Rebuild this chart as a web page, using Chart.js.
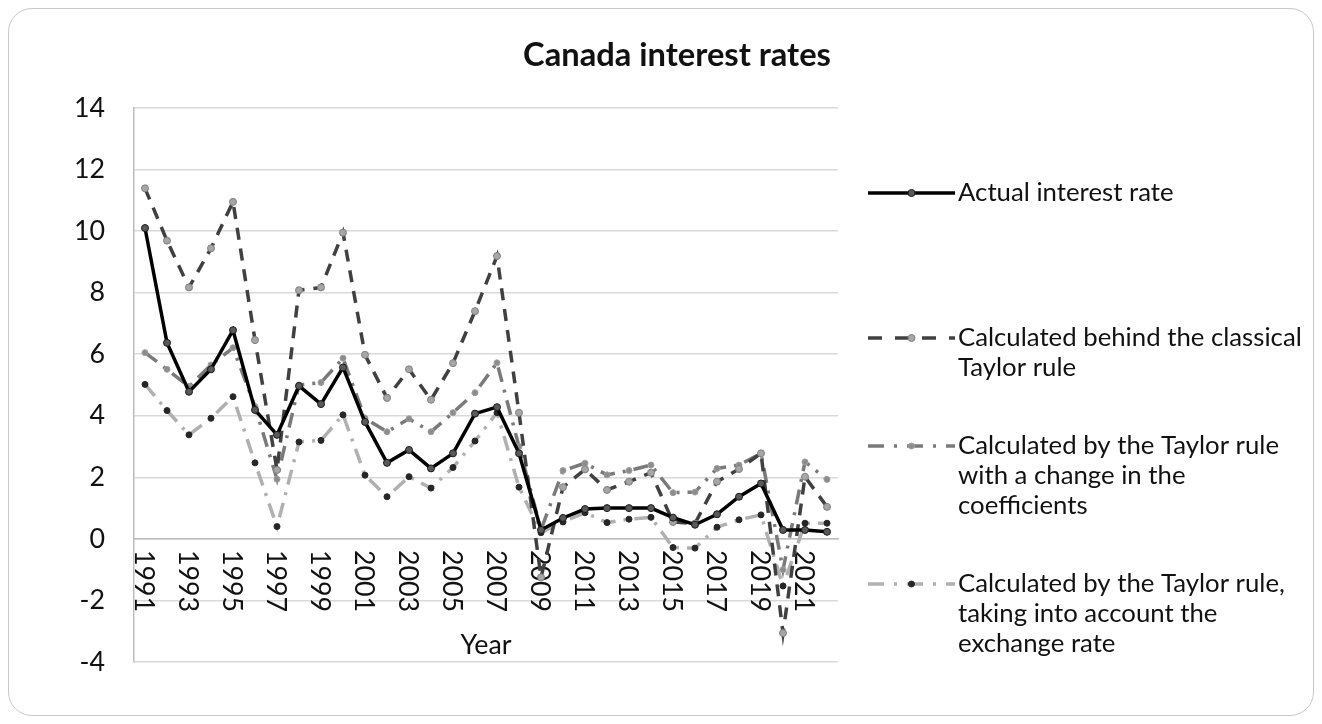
<!DOCTYPE html>
<html>
<head>
<meta charset="utf-8">
<script src="https://cdn.jsdelivr.net/npm/chart.js@4.4.1/dist/chart.umd.min.js"></script>
<style>
  html, body { margin: 0; padding: 0; background: #fff; }
  #card {
    position: absolute; left: 8px; top: 8px; width: 1306px; height: 708px;
    border: 1.5px solid #c9c9c9; border-radius: 24px; box-sizing: border-box;
  }
  #wrap { position: absolute; left: 0; top: 0; width: 1322px; height: 724px; }
</style>
</head>
<body>
<div id="card"></div>
<div id="wrap"><canvas id="chart" width="1322" height="724"></canvas></div>
<script>
const years = ['1991','1992','1993','1994','1995','1996','1997','1998','1999','2000',
  '2001','2002','2003','2004','2005','2006','2007','2008','2009','2010','2011',
  '2012','2013','2014','2015','2016','2017','2018','2019','2020','2021','2022'];

const actualRate = [10.1, 6.37, 4.78, 5.51, 6.78, 4.19, 3.38, 4.97, 4.38, 5.57,
  3.8, 2.47, 2.89, 2.29, 2.78, 4.07, 4.28, 2.78, 0.29, 0.68, 0.97,
  1.0, 1.0, 1.0, 0.69, 0.46, 0.8, 1.37, 1.8, 0.29, 0.29, 0.23];

const classicalTaylor = [11.39, 9.69, 8.17, 9.44, 10.95, 6.46, 2.24, 8.08, 8.17, 9.95,
  5.98, 4.58, 5.51, 4.52, 5.71, 7.4, 9.19, 4.1, -1.25, 1.68, 2.26,
  1.59, 1.86, 2.15, 0.55, 0.5, 1.86, 2.27, 2.78, -3.06, 2.02, 1.04];

const changedCoefficients = [6.05, 5.51, 4.95, 5.65, 6.21, 4.3, 1.94, 5.0, 5.08, 5.87,
  3.92, 3.48, 3.9, 3.48, 4.1, 4.75, 5.72, 3.0, 0.3, 2.22, 2.46,
  2.08, 2.22, 2.4, 1.5, 1.52, 2.29, 2.4, 2.78, -1.0, 2.5, 1.93];

const withExchangeRate = [5.02, 4.17, 3.38, 3.92, 4.62, 2.47, 0.4, 3.15, 3.2, 4.03,
  2.07, 1.37, 2.02, 1.65, 2.32, 3.18, 4.1, 1.68, 0.2, 0.55, 0.85,
  0.53, 0.64, 0.7, -0.28, -0.3, 0.38, 0.62, 0.78, -1.53, 0.51, 0.51];

const seriesNames = [
  ['Actual interest rate'],
  ['Calculated behind the classical', 'Taylor rule'],
  ['Calculated by the Taylor rule', 'with a change in the', 'coefficients'],
  ['Calculated by the Taylor rule,', 'taking into account the', 'exchange rate']
];

const titleText = 'Canada interest rates';
const xAxisTitle = 'Year';

const FAMILY = 'Lato, "Open Sans", sans-serif';

// pick font sizes so text widths come out close to the picture
function fitSize(text, targetWidth, weight) {
  const c = document.createElement('canvas').getContext('2d');
  c.font = (weight || 'normal') + ' 100px ' + FAMILY;
  return 100 * targetWidth / c.measureText(text).width;
}
const legendSize = fitSize('Calculated behind the classical', 344);
const titleSize = fitSize(titleText, 308, 'bold');
const axisSize = fitSize(xAxisTitle, 51);

const overlay = {
  id: 'overlay',
  beforeDatasetsDraw(chart) {
    // x labels, rotated clockwise, hanging below the zero line
    const { ctx, scales } = chart;
    const x = scales.x, y = scales.y;
    const y0 = y.getPixelForValue(0);
    ctx.save();
    ctx.fillStyle = '#111';
    ctx.font = axisSize + 'px ' + FAMILY;
    ctx.textAlign = 'left';
    ctx.textBaseline = 'middle';
    years.forEach((yr, i) => {
      if (i % 2) return;
      ctx.save();
      ctx.translate(x.getPixelForValue(i) - 1, y0 + 11);
      ctx.rotate(Math.PI / 2);
      ctx.fillText(yr, 0, 0);
      ctx.restore();
    });
    ctx.restore();
  },
  afterDraw(chart) {
    const { ctx, chartArea } = chart;
    ctx.save();
    ctx.fillStyle = '#111';
    ctx.textBaseline = 'middle';

    ctx.font = 'bold ' + titleSize + 'px ' + FAMILY;
    ctx.textAlign = 'center';
    ctx.fillText(titleText, 677, 55);

    ctx.font = axisSize + 'px ' + FAMILY;
    ctx.fillText(xAxisTitle, (chartArea.left + chartArea.right) / 2, 645);

    // legend
    const rows = [193, 338, 446, 584];
    ctx.font = legendSize + 'px ' + FAMILY;
    ctx.textAlign = 'left';
    chart.data.datasets.forEach((ds, i) => {
      const cy = rows[i];
      ctx.save();
      ctx.strokeStyle = ds.borderColor;
      ctx.lineWidth = ds.borderWidth;
      ctx.setLineDash(ds.legendDash || []);
      ctx.beginPath();
      ctx.moveTo(868, cy);
      ctx.lineTo(955, cy);
      ctx.stroke();
      ctx.setLineDash([]);
      ctx.beginPath();
      ctx.arc(911.5, cy, ds.pointRadius, 0, Math.PI * 2);
      ctx.fillStyle = ds.pointBackgroundColor;
      ctx.fill();
      ctx.lineWidth = ds.pointBorderWidth;
      ctx.strokeStyle = ds.pointBorderColor;
      ctx.stroke();
      ctx.restore();
      seriesNames[i].forEach((line, j) => {
        ctx.fillText(line, 958, cy + j * 30);
      });
    });
    ctx.restore();
  }
};

new Chart(document.getElementById('chart'), {
  type: 'line',
  data: {
    labels: years,
    datasets: [
      {
        label: seriesNames[0].join(' '),
        data: actualRate,
        borderColor: '#000',
        borderWidth: 3.5,
        pointRadius: 3.5,
        pointBackgroundColor: '#595959',
        pointBorderColor: '#1a1a1a',
        pointBorderWidth: 1,
        legendDash: []
      },
      {
        label: seriesNames[1].join(' '),
        data: classicalTaylor,
        borderColor: '#404040',
        borderWidth: 3.5,
        borderDash: [12, 9],
        pointRadius: 3.5,
        pointBackgroundColor: '#a6a6a6',
        pointBorderColor: '#808080',
        pointBorderWidth: 1,
        legendDash: [14, 13, 0, 0]
      },
      {
        label: seriesNames[2].join(' '),
        data: changedCoefficients,
        borderColor: '#7a7a7a',
        borderWidth: 3.5,
        borderDash: [15, 8, 3, 8],
        pointRadius: 3,
        pointBackgroundColor: '#8c8c8c',
        pointBorderColor: '#a0a0a0',
        pointBorderWidth: 1,
        legendDash: [16, 10, 3, 10]
      },
      {
        label: seriesNames[3].join(' '),
        data: withExchangeRate,
        borderColor: '#b0b0b0',
        borderWidth: 3.5,
        borderDash: [15, 8, 3, 8],
        pointRadius: 3,
        pointBackgroundColor: '#262626',
        pointBorderColor: '#262626',
        pointBorderWidth: 1,
        legendDash: [16, 10, 3, 10]
      }
    ]
  },
  options: {
    responsive: false,
    animation: false,
    layout: { padding: { left: 0, top: 108, right: 1322 - 838, bottom: 724 - 662 } },
    elements: { line: { tension: 0 } },
    plugins: {
      legend: { display: false },
      title: { display: false },
      tooltip: { enabled: false }
    },
    scales: {
      x: {
        position: { y: 0 },
        offset: true,
        grid: { display: false },
        border: { display: true, color: '#bdbdbd', width: 1.5 },
        ticks: { display: false }
      },
      y: {
        min: -4,
        max: 14,
        afterFit(scale) { scale.width = 134; },
        grid: { color: '#d9d9d9', lineWidth: 1.5, drawTicks: false },
        border: { display: true, color: '#bdbdbd', width: 1.5 },
        ticks: {
          stepSize: 2,
          padding: 29,
          color: '#111',
          font: { family: FAMILY, size: axisSize }
        }
      }
    }
  },
  plugins: [overlay]
});
</script>
</body>
</html>
